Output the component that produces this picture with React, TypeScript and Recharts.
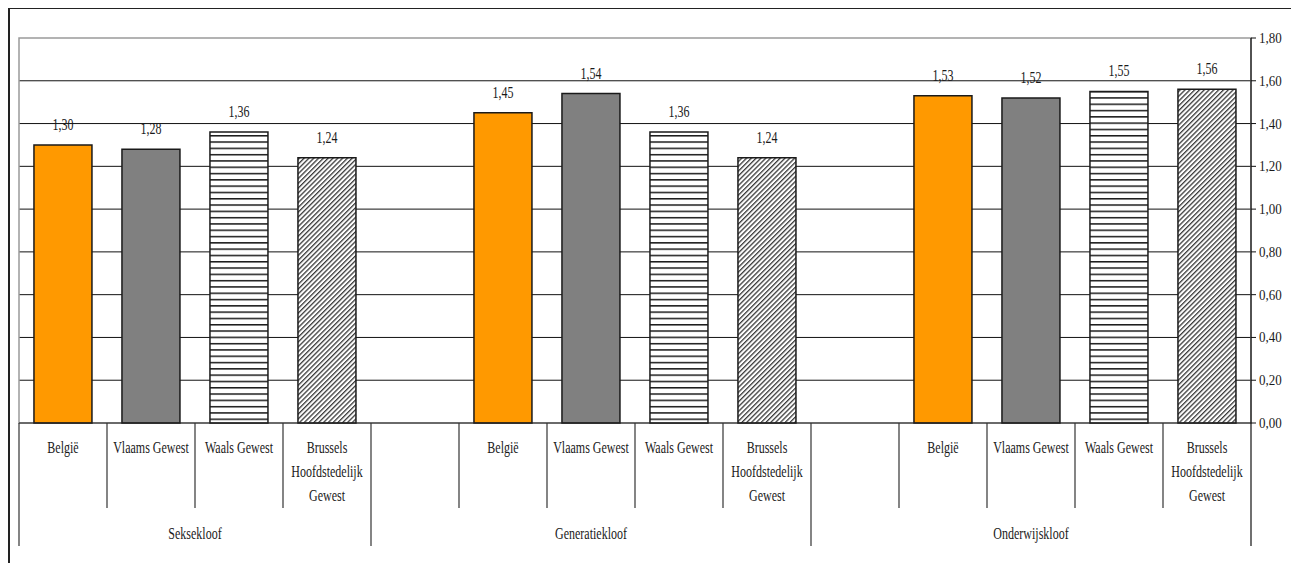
import React from 'react';
import { BarChart, Bar, XAxis, YAxis, CartesianGrid, Cell, LabelList, ReferenceArea } from 'recharts';

const groups = ['Seksekloof', 'Generatiekloof', 'Onderwijskloof'];
const regions = ['België', 'Vlaams Gewest', 'Waals Gewest', 'Brussels Hoofdstedelijk Gewest'];
const leadingBlanks = [0, 1, 1];
const seksekloof = [1.3, 1.28, 1.36, 1.24];
const generatiekloof = [1.45, 1.54, 1.36, 1.24];
const onderwijskloof = [1.53, 1.52, 1.55, 1.56];
const yTicks = [0, 0.2, 0.4, 0.6, 0.8, 1.0, 1.2, 1.4, 1.6, 1.8];

const groupValues = [seksekloof, generatiekloof, onderwijskloof];
const fills = ['#FF9900', '#808080', 'url(#hStripes)', 'url(#diagHatch)'];

type Row = {
  key: string;
  label: string;
  value: number | null;
  kind: number;
  group: string;
  groupStart: boolean;
  groupSize: number;
  isLast: boolean;
};

const rows: Row[] = [];
groups.forEach((g, gi) => {
  const size = leadingBlanks[gi] + regions.length;
  for (let b = 0; b < leadingBlanks[gi]; b++) {
    rows.push({ key: `${g}-blank${b}`, label: '', value: null, kind: -1, group: g, groupStart: b === 0, groupSize: size, isLast: false });
  }
  regions.forEach((r, ri) => {
    rows.push({
      key: `${g}-${r}`,
      label: r,
      value: groupValues[gi][ri],
      kind: ri,
      group: g,
      groupStart: leadingBlanks[gi] === 0 && ri === 0,
      groupSize: size,
      isLast: false,
    });
  });
});
rows[rows.length - 1].isLast = true;

const FONT = "'Liberation Serif', 'Times New Roman', serif";
const fmt = (v: number) => v.toFixed(2).replace('.', ',');

const SText = ({ x, y, children, size = 12, sy = 1.45, anchor = 'middle' }: any) => (
  <text
    transform={`translate(${x},${y}) scale(1,${sy})`}
    x={0}
    y={0}
    textAnchor={anchor}
    fontFamily={FONT}
    fontSize={size}
    fill="#1a1a1a"
  >
    {children}
  </text>
);

const wrap = (s: string, maxChars: number) => {
  const words = s.split(' ');
  const lines: string[] = [];
  let cur = '';
  words.forEach((w) => {
    const next = cur ? cur + ' ' + w : w;
    if (next.length > maxChars && cur) {
      lines.push(cur);
      cur = w;
    } else cur = next;
  });
  if (cur) lines.push(cur);
  return lines;
};

const CHART_W = 1281;
const PLOT_W = 1232;
const FALLBACK_HALF = PLOT_W / rows.length / 2;

const CategoryTick = (props: any) => {
  const { x, y, payload } = props;
  const row = rows.find((r) => r.key === payload.value);
  if (!row) return null;
  const half = typeof payload.offset === 'number' && payload.offset > 0 ? payload.offset : FALLBACK_HALF;
  const left = x - half;
  const lines = wrap(row.label, 15);
  return (
    <g>
      <line x1={left} x2={left} y1={y} y2={y + (row.groupStart ? 123 : 85)} stroke="#333" strokeWidth={1.2} />
      {row.isLast && <line x1={x + half} x2={x + half} y1={y} y2={y + 123} stroke="#111" strokeWidth={1.2} />}
      {lines.map((l, i) => (
        <SText key={i} x={x} y={y + 30 + i * 24}>
          {l}
        </SText>
      ))}
      {row.groupStart && (
        <SText x={left + row.groupSize * half} y={y + 116}>
          {row.group}
        </SText>
      )}
    </g>
  );
};

const YTick = (props: any) => {
  const { x, y, payload } = props;
  return (
    <SText x={x} y={y + 5} size={13} sy={1.12} anchor="start">
      {fmt(payload.value)}
    </SText>
  );
};

const ValueLabel = (props: any) => {
  const { x, y, width, value } = props;
  if (value == null || Number.isNaN(Number(value))) return null;
  return (
    <SText x={Number(x) + Number(width) / 2} y={Number(y) - 15}>
      {fmt(Number(value))}
    </SText>
  );
};

export default function App() {
  return (
    <div
      style={{
        width: CHART_W,
        height: 556,
        border: '2px solid #222',
        marginTop: -1,
        background: '#fff',
      }}
    >
      <BarChart
        width={CHART_W}
        height={556}
        data={rows}
        margin={{ top: 29, right: 0, bottom: 0, left: 9 }}
        barCategoryGap="17%"
      >
        <defs>
          <pattern id="hStripes" patternUnits="userSpaceOnUse" width={8} height={6.3}>
            <rect width={8} height={6.3} fill="#fff" />
            <rect x={0} y={0} width={8} height={1.5} fill="#1a1a1a" />
          </pattern>
          <pattern id="diagHatch" patternUnits="userSpaceOnUse" width={3.4} height={3.4} patternTransform="rotate(45)">
            <rect width={3.4} height={3.4} fill="#fff" />
            <rect x={0} y={0} width={1.3} height={3.4} fill="#3a3a3a" />
          </pattern>
        </defs>
        <CartesianGrid
          vertical={false}
          stroke="#111"
          strokeWidth={1}
          horizontalValues={[0.2, 0.4, 0.6, 0.8, 1.0, 1.2, 1.4, 1.6]}
        />
        <ReferenceArea y1={0} y2={1.8} fill="none" stroke="#9a9a9a" strokeWidth={1.5} ifOverflow="visible" />
        <XAxis
          dataKey="key"
          interval={0}
          tickLine={false}
          tickSize={0}
          tickMargin={0}
          axisLine={{ stroke: '#222', strokeWidth: 1.2 }}
          height={142}
          tick={<CategoryTick />}
        />
        <YAxis
          orientation="right"
          domain={[0, 1.8]}
          ticks={yTicks}
          width={40}
          tickSize={5}
          tickMargin={3}
          axisLine={{ stroke: '#111', strokeWidth: 1.2 }}
          tickLine={{ stroke: '#111' }}
          tick={<YTick />}
          interval={0}
        />
        <Bar dataKey="value" isAnimationActive={false} stroke="#1a1a1a" strokeWidth={1.5}>
          {rows.map((r) => (
            <Cell key={r.key} fill={r.kind >= 0 ? fills[r.kind] : 'none'} />
          ))}
          <LabelList dataKey="value" content={<ValueLabel />} />
        </Bar>
      </BarChart>
    </div>
  );
}
